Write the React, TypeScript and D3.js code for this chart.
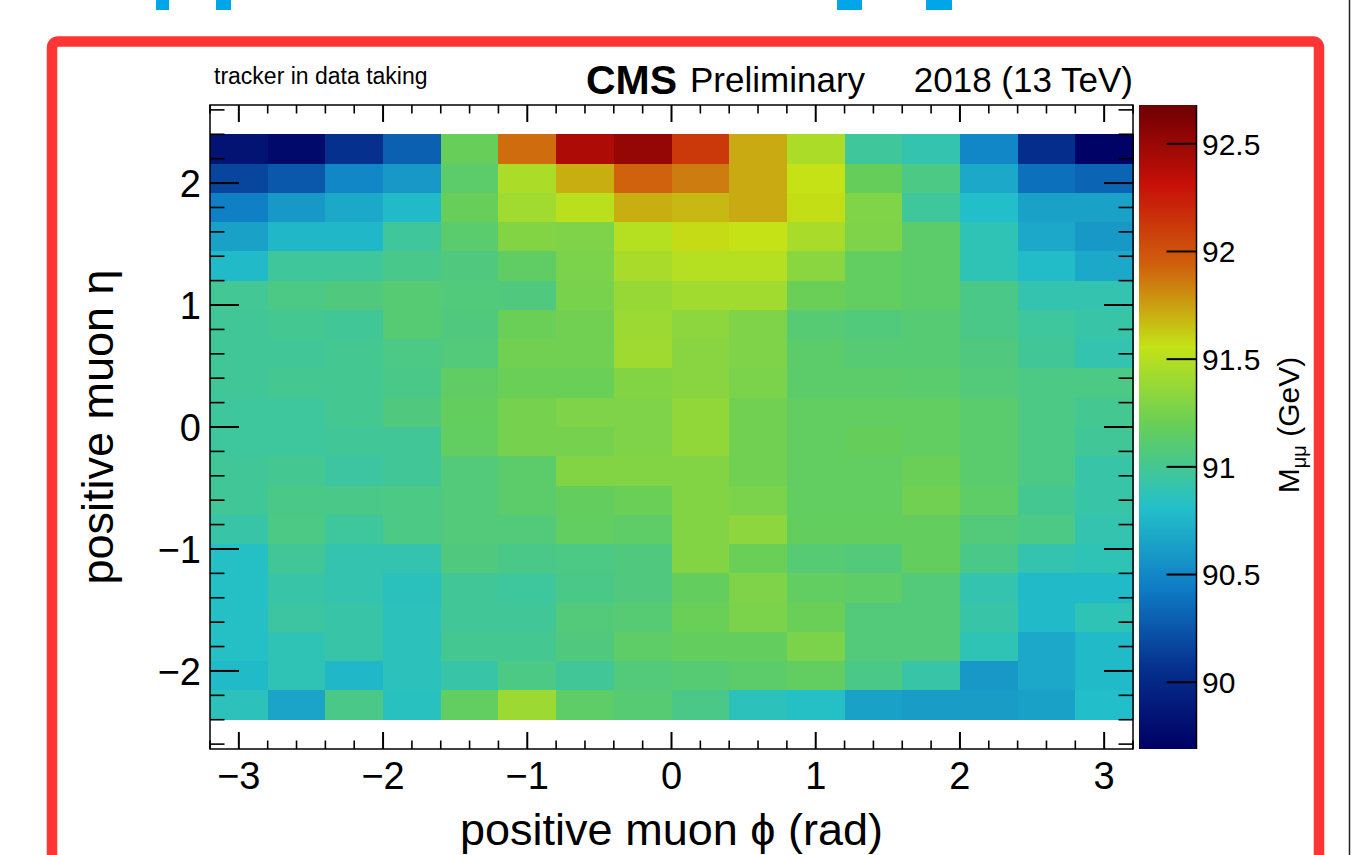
import * as d3 from "d3";
import React from "react";

// phi / eta bin edges of the 2D histogram
const PHI_EDGES = [-3.2, -2.8, -2.4, -2.0, -1.6, -1.2, -0.8, -0.4, 0, 0.4, 0.8, 1.2, 1.6, 2.0, 2.4, 2.8, 3.2];
const ETA_EDGES = [-2.4, -2.16, -1.92, -1.68, -1.44, -1.2, -0.96, -0.72, -0.48, -0.24, 0, 0.24, 0.48, 0.72, 0.96, 1.2, 1.44, 1.68, 1.92, 2.16, 2.4];

// fitted M_mumu (GeV) per bin, first row = top of the plot (eta 2.16..2.4)
const MASS = [
  [89.84, 89.76, 90.06, 90.30, 91.19, 91.90, 92.42, 92.52, 92.12, 91.72, 91.46, 90.97, 90.90, 90.50, 90.05, 89.71],
  [90.17, 90.26, 90.50, 90.59, 91.13, 91.46, 91.71, 91.93, 91.85, 91.72, 91.56, 91.18, 91.04, 90.68, 90.38, 90.32],
  [90.46, 90.59, 90.68, 90.78, 91.19, 91.42, 91.52, 91.71, 91.68, 91.72, 91.57, 91.29, 90.97, 90.80, 90.64, 90.64],
  [90.64, 90.76, 90.76, 90.97, 91.12, 91.30, 91.28, 91.50, 91.58, 91.56, 91.45, 91.28, 91.13, 90.88, 90.68, 90.59],
  [90.78, 90.97, 90.97, 91.02, 91.06, 91.15, 91.27, 91.45, 91.50, 91.50, 91.33, 91.16, 91.13, 90.88, 90.79, 90.68],
  [90.99, 91.04, 91.06, 91.10, 91.07, 91.06, 91.26, 91.38, 91.42, 91.42, 91.20, 91.16, 91.13, 91.03, 90.90, 90.90],
  [90.98, 91.00, 90.98, 91.10, 91.06, 91.20, 91.23, 91.40, 91.34, 91.28, 91.10, 91.07, 91.10, 91.03, 90.96, 90.93],
  [90.98, 90.98, 91.00, 91.04, 91.08, 91.23, 91.23, 91.41, 91.32, 91.28, 91.13, 91.10, 91.10, 91.06, 90.98, 90.90],
  [90.98, 91.00, 91.00, 91.03, 91.15, 91.20, 91.20, 91.30, 91.32, 91.27, 91.13, 91.13, 91.12, 91.08, 91.04, 91.04],
  [90.96, 90.96, 91.00, 91.06, 91.17, 91.25, 91.28, 91.28, 91.36, 91.23, 91.16, 91.16, 91.16, 91.12, 91.04, 91.00],
  [90.96, 90.96, 90.98, 90.98, 91.16, 91.25, 91.25, 91.28, 91.36, 91.23, 91.16, 91.18, 91.16, 91.12, 91.04, 90.98],
  [90.98, 91.00, 90.95, 90.98, 91.08, 91.13, 91.30, 91.30, 91.30, 91.23, 91.16, 91.16, 91.20, 91.12, 91.04, 90.93],
  [90.98, 91.03, 91.03, 91.04, 91.08, 91.13, 91.17, 91.20, 91.30, 91.27, 91.16, 91.16, 91.23, 91.14, 91.00, 90.93],
  [90.93, 91.04, 90.96, 91.04, 91.08, 91.08, 91.16, 91.14, 91.30, 91.34, 91.17, 91.17, 91.17, 91.08, 91.04, 90.90],
  [90.82, 90.98, 90.90, 90.90, 91.06, 91.03, 91.04, 91.06, 91.30, 91.20, 91.10, 91.08, 91.17, 91.03, 90.90, 90.88],
  [90.82, 90.93, 90.90, 90.85, 90.98, 90.96, 91.03, 91.06, 91.17, 91.28, 91.16, 91.14, 91.08, 90.90, 90.78, 90.78],
  [90.82, 90.95, 90.93, 90.86, 90.98, 90.98, 91.08, 91.10, 91.20, 91.27, 91.20, 91.08, 91.08, 90.93, 90.78, 90.88],
  [90.82, 90.88, 90.93, 90.86, 91.00, 91.00, 91.06, 91.14, 91.17, 91.17, 91.27, 91.08, 91.08, 90.88, 90.68, 90.78],
  [90.78, 90.88, 90.76, 90.86, 90.93, 91.04, 90.98, 91.08, 91.10, 91.13, 91.16, 91.03, 90.93, 90.59, 90.68, 90.78],
  [90.86, 90.66, 91.03, 90.84, 91.16, 91.40, 91.14, 91.10, 91.03, 90.86, 90.82, 90.64, 90.62, 90.62, 90.64, 90.80],
];

const X_TICKS = [-3, -2, -1, 0, 1, 2, 3];
const Y_TICKS = [-2, -1, 0, 1, 2];
const Z_TICKS = [90, 90.5, 91, 91.5, 92, 92.5];
const Z_RANGE = [89.69, 92.68];
// ROOT kRainBow palette
const RAINBOW = ["#000063", "#05308e", "#0f7cc6", "#23c0c9", "#66ce5a", "#c4e216", "#d0610d", "#c71008", "#6e0002"];

const FONT = "'Liberation Sans', Arial, Helvetica, sans-serif";
const WIDTH = 1354;
const HEIGHT = 855;

export default function App() {
  const frame = { left: 210, right: 1133, top: 105, bottom: 749 };
  const bar = { left: 1139, right: 1196.5 };

  const xScale = d3.scaleLinear().domain([-3.2, 3.2]).range([frame.left, frame.right]);
  const yScale = d3.scaleLinear().domain([-2.64, 2.64]).range([frame.bottom, frame.top]);
  const zScale = d3.scaleLinear().domain(Z_RANGE).range([frame.bottom, frame.top]);

  const stopsZ = RAINBOW.map((_, i) => Z_RANGE[0] + (i / (RAINBOW.length - 1)) * (Z_RANGE[1] - Z_RANGE[0]));
  const color = d3.scaleLinear<string>().domain(stopsZ).range(RAINBOW).interpolate(d3.interpolateRgb).clamp(true);

  const nEta = ETA_EDGES.length - 1;
  const xMinor = d3.range(-32, 33, 2).map(v => v / 10).filter(v => Math.abs(v - Math.round(v)) > 1e-6);
  const yMinor = d3.range(-26, 27, 2).map(v => v / 10).filter(v => Math.abs(v - Math.round(v)) > 1e-6);

  const xMaj = 17, xMin = 8.5, yMaj = 29, yMin = 14.5;

  return (
    <svg width={WIDTH} height={HEIGHT} style={{ position: "absolute", left: 0, top: 0 }} fontFamily={FONT}>
      <defs>
        <linearGradient id="palette" x1={0} y1={1} x2={0} y2={0}>
          {RAINBOW.map((c, i) => (
            <stop key={i} offset={`${(i / (RAINBOW.length - 1)) * 100}%`} stopColor={c} />
          ))}
        </linearGradient>
      </defs>
      <rect width={WIDTH} height={HEIGHT} fill="#fff" />

      {/* cut off slide title */}
      {[[156, 169], [216, 231], [837, 862], [926, 952]].map(([a, b], i) => (
        <rect key={i} x={a} y={0} width={b - a} height={10} fill="#00a6e8" />
      ))}
      <line x1={1349.5} x2={1349.5} y1={0} y2={HEIGHT} stroke="#222" strokeWidth={1.5} />
      <rect x={52} y={41.5} width={1267} height={900} rx={6} fill="none" stroke="#ff3535" strokeWidth={10.5} />

      {/* cells */}
      <g shapeRendering="crispEdges">
        {MASS.map((row, i) =>
          row.map((m, j) => {
            const etaHi = ETA_EDGES[nEta - i];
            const etaLo = ETA_EDGES[nEta - i - 1];
            const x0 = xScale(PHI_EDGES[j]);
            const x1 = xScale(PHI_EDGES[j + 1]);
            const y0 = yScale(etaHi);
            const y1 = yScale(etaLo);
            return <rect key={`${i}-${j}`} x={x0} y={y0} width={x1 - x0 + 0.5} height={y1 - y0 + 0.5} fill={color(m)} />;
          })
        )}
      </g>

      {/* frame + ticks */}
      <g stroke="#000">
        <rect x={frame.left} y={frame.top} width={frame.right - frame.left} height={frame.bottom - frame.top} fill="none" strokeWidth={1.5} />
        {X_TICKS.map(v => (
          <g key={`xm${v}`} strokeWidth={2}>
            <line x1={xScale(v)} x2={xScale(v)} y1={frame.bottom} y2={frame.bottom - xMaj} />
            <line x1={xScale(v)} x2={xScale(v)} y1={frame.top} y2={frame.top + xMaj} />
          </g>
        ))}
        {xMinor.map(v => (
          <g key={`xn${v}`} strokeWidth={1.6}>
            <line x1={xScale(v)} x2={xScale(v)} y1={frame.bottom} y2={frame.bottom - xMin} />
            <line x1={xScale(v)} x2={xScale(v)} y1={frame.top} y2={frame.top + xMin} />
          </g>
        ))}
        {Y_TICKS.map(v => (
          <g key={`ym${v}`} strokeWidth={2}>
            <line x1={frame.left} x2={frame.left + yMaj} y1={yScale(v)} y2={yScale(v)} />
            <line x1={frame.right} x2={frame.right - yMaj} y1={yScale(v)} y2={yScale(v)} />
          </g>
        ))}
        {yMinor.map(v => (
          <g key={`yn${v}`} strokeWidth={1.6}>
            <line x1={frame.left} x2={frame.left + yMin} y1={yScale(v)} y2={yScale(v)} />
            <line x1={frame.right} x2={frame.right - yMin} y1={yScale(v)} y2={yScale(v)} />
          </g>
        ))}
      </g>

      {/* tick labels */}
      <g fontSize={38} fill="#000">
        {X_TICKS.map(v => (
          <text key={`xl${v}`} x={xScale(v)} y={789} textAnchor="middle">
            {d3.format("")(v)}
          </text>
        ))}
        {Y_TICKS.map(v => (
          <text key={`yl${v}`} x={201} y={yScale(v)} dy="0.36em" textAnchor="end">
            {d3.format("")(v)}
          </text>
        ))}
      </g>

      {/* axis titles */}
      <text x={(frame.left + frame.right) / 2} y={845} fontSize={45} textAnchor="middle">
        positive muon ϕ (rad)
      </text>
      <text transform={`translate(113, ${(frame.top + frame.bottom) / 2}) rotate(-90)`} fontSize={45} textAnchor="middle">
        positive muon η
      </text>

      {/* palette */}
      <rect x={bar.left} y={frame.top} width={bar.right - bar.left} height={frame.bottom - frame.top} fill="url(#palette)" />
      <line x1={bar.right} x2={bar.right} y1={frame.top} y2={frame.bottom} stroke="#000" strokeWidth={1.5} />
      {Z_TICKS.map(v => (
        <g key={`z${v}`}>
          <line x1={bar.right - 30} x2={bar.right} y1={zScale(v)} y2={zScale(v)} stroke="#000" strokeWidth={2} />
          <text x={1202} y={zScale(v)} dy="0.36em" fontSize={30}>
            {v}
          </text>
        </g>
      ))}
      <text transform="translate(1299, 425) rotate(-90)" fontSize={30} textAnchor="middle">
        M
        <tspan fontSize={20} dy={7}>μμ</tspan>
        <tspan dy={-7}>{"  (GeV)"}</tspan>
      </text>

      {/* labels above the frame */}
      <text x={214} y={84} fontSize={23}>tracker in data taking</text>
      <text x={586} y={94} fontSize={41} fontWeight="bold">CMS</text>
      <text x={690} y={92} fontSize={35}>Preliminary</text>
      <text x={frame.right} y={92} fontSize={35} textAnchor="end">2018 (13 TeV)</text>
    </svg>
  );
}
